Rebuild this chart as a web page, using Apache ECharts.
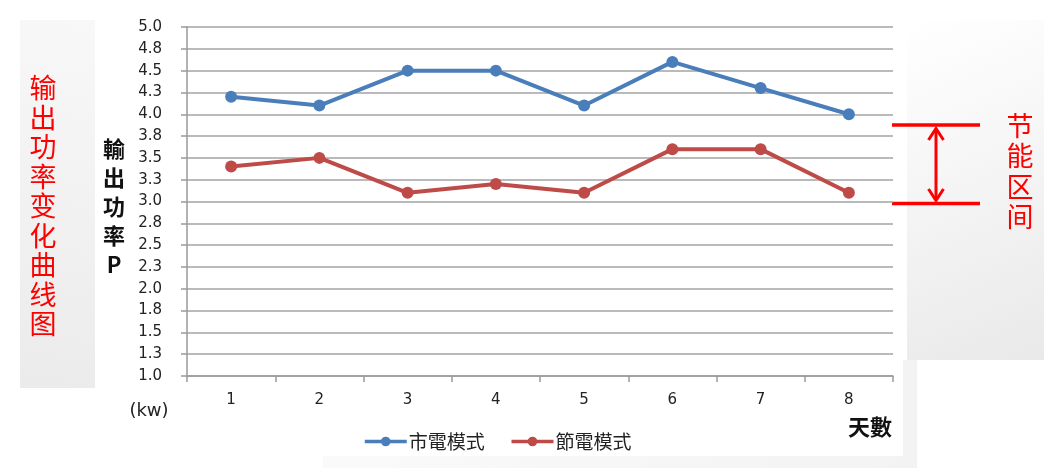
<!DOCTYPE html>
<html>
<head>
<meta charset="utf-8">
<script src="https://cdn.jsdelivr.net/npm/echarts@6/dist/echarts.min.js"></script>
<style>
html,body{margin:0;padding:0;background:#fff;}
#main{width:1044px;height:473px;}
</style>
</head>
<body>
<div id="main"></div>
<script>
var days = ['1','2','3','4','5','6','7','8'];
var cityPower = [4.2, 4.1, 4.5, 4.5, 4.1, 4.6, 4.3, 4.0];
var savePower = [3.4, 3.5, 3.1, 3.2, 3.1, 3.6, 3.6, 3.1];
var seriesNames = ['市電模式', '節電模式'];
var yMin = 1, yMax = 5, yStep = 0.25;

var chart = echarts.init(document.getElementById('main'));
var numFont = 'DejaVu Sans';
var cjkTC = '"Noto Sans CJK TC"';
var cjkSC = '"Noto Sans CJK SC"';
var red = '#ff0000';

chart.setOption({
  backgroundColor: '#ffffff',
  animation: false,
  grid: {left: 187, right: 151, top: 27, bottom: 97},
  legend: {
    left: 358, top: 427,
    itemWidth: 42, itemHeight: 12, itemGap: 25,
    lineStyle: {width: 3.5},
    textStyle: {fontFamily: cjkTC, fontSize: 19, color: '#222', padding: [0,0,0,-3]},
    data: seriesNames
  },
  xAxis: {
    type: 'category',
    data: days,
    boundaryGap: true,
    axisLine: {show: true, lineStyle: {color: '#9a9a9a', width: 1.5}},
    axisTick: {show: true, length: 6, lineStyle: {color: '#9a9a9a', width: 1.5}},
    axisLabel: {margin: 17, fontFamily: numFont, fontSize: 15, color: '#222'},
    splitLine: {show: false}
  },
  yAxis: {
    type: 'value',
    min: yMin, max: yMax, interval: yStep,
    axisLine: {show: true, lineStyle: {color: '#9a9a9a', width: 1.5}},
    axisTick: {show: true, length: 6, lineStyle: {color: '#9a9a9a', width: 1.5}},
    axisLabel: {margin: 25, fontFamily: numFont, fontSize: 15, color: '#222',
      formatter: function (v) { return v.toFixed(1); }},
    splitLine: {show: true, lineStyle: {color: '#a3a3a3', width: 1.5}}
  },
  series: [
    {name: seriesNames[0], type: 'line', data: cityPower, symbol: 'circle', symbolSize: 12,
     itemStyle: {color: '#4a7ebb'}, lineStyle: {color: '#4a7ebb', width: 4}},
    {name: seriesNames[1], type: 'line', data: savePower, symbol: 'circle', symbolSize: 12,
     itemStyle: {color: '#be4b48'}, lineStyle: {color: '#be4b48', width: 4}}
  ],
  graphic: [
    {type: 'rect', z: -10, shape: {x: 20, y: 20, width: 75, height: 368},
     style: {fill: new echarts.graphic.LinearGradient(1, 0, 0, 1, [
       {offset: 0, color: '#f8f8f8'}, {offset: 1, color: '#ebebeb'}])}},
    {type: 'rect', z: -10, shape: {x: 907, y: 20, width: 137, height: 340},
     style: {fill: new echarts.graphic.LinearGradient(0, 0, 1, 1, [
       {offset: 0, color: '#ffffff'}, {offset: 1, color: '#e9e9e9'}])}},
    {type: 'rect', z: -10, shape: {x: 903, y: 360, width: 14, height: 108},
     style: {fill: '#f3f3f3'}},
    {type: 'rect', z: -10, shape: {x: 323, y: 456, width: 580, height: 12},
     style: {fill: new echarts.graphic.LinearGradient(0, 0, 1, 0, [
       {offset: 0, color: '#fafafa'}, {offset: 1, color: '#f3f3f3'}])}},
    {type: 'text', style: {text: '输\n出\n功\n率\n变\n化\n曲\n线\n图', x: 43, y: 73,
      align: 'center', verticalAlign: 'top', fill: red, fontSize: 27, lineHeight: 29.5,
      fontFamily: cjkSC}},
    {type: 'text', style: {text: '輸\n出\n功\n率\nP', x: 114, y: 134,
      align: 'center', verticalAlign: 'top', fill: '#111', fontSize: 22, fontWeight: 'bold',
      lineHeight: 29, fontFamily: cjkTC}},
    {type: 'text', style: {text: '(kw)', x: 149, y: 411, align: 'center', verticalAlign: 'middle',
      fill: '#222', fontSize: 18, fontFamily: numFont}},
    {type: 'text', style: {text: '天數', x: 870, y: 427, align: 'center', verticalAlign: 'middle',
      fill: '#111', fontSize: 22, fontWeight: 'bold', fontFamily: cjkTC}},
    {type: 'text', style: {text: '节\n能\n区\n间', x: 1020, y: 110,
      align: 'center', verticalAlign: 'top', fill: red, fontSize: 27, lineHeight: 30.5,
      fontFamily: cjkSC}},
    {type: 'line', shape: {x1: 892, y1: 125, x2: 980, y2: 125}, style: {stroke: red, lineWidth: 3.5}},
    {type: 'line', shape: {x1: 892, y1: 203.5, x2: 980, y2: 203.5}, style: {stroke: red, lineWidth: 3.5}},
    {type: 'line', shape: {x1: 936, y1: 129, x2: 936, y2: 200}, style: {stroke: red, lineWidth: 3}},
    {type: 'polyline', shape: {points: [[928.5, 140], [936, 128.5], [943.5, 140]]},
     style: {stroke: red, lineWidth: 3, fill: null}},
    {type: 'polyline', shape: {points: [[928.5, 189], [936, 200.5], [943.5, 189]]},
     style: {stroke: red, lineWidth: 3, fill: null}}
  ]
});
</script>
</body>
</html>
